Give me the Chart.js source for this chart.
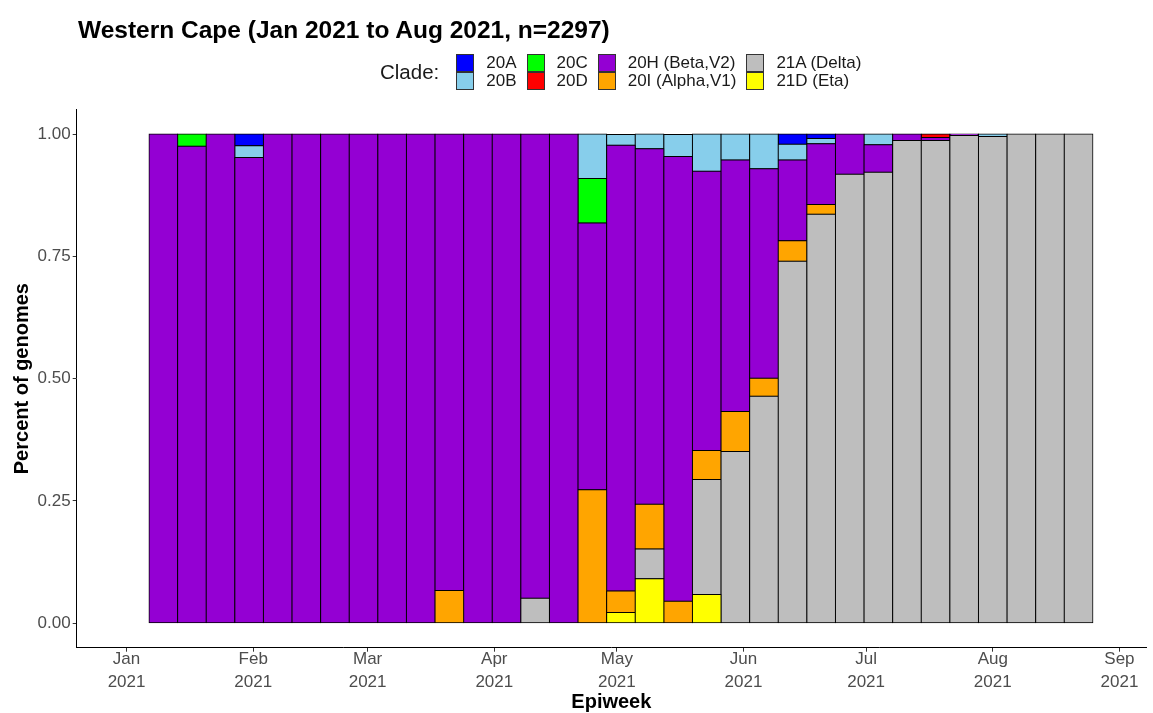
<!DOCTYPE html>
<html>
<head>
<meta charset="utf-8">
<script src="https://cdn.jsdelivr.net/npm/chart.js@4.4.1/dist/chart.umd.min.js"></script>
<style>
  html, body { margin:0; padding:0; background:#fff; }
  body { width:1153px; height:713px; position:relative; overflow:hidden; font-family:"Liberation Sans", Arial, sans-serif; }
  #c { position:absolute; left:0; top:0; }
  #title { position:absolute; left:78px; top:15px; font-weight:bold; font-size:24.5px; color:#000; white-space:nowrap; line-height:30px; }
  #legend { position:absolute; left:380px; top:54px; display:flex; align-items:center; color:#1a1a1a; }
  #legend .ltitle { font-size:20.5px; margin-right:17px; }
  #legend .col { display:flex; flex-direction:column; margin-right:10px; }
  #legend .item { display:flex; align-items:center; height:18px; }
  #legend .box { width:18px; height:18px; border:0.6px solid #333; box-sizing:border-box; margin-right:12px; }
  #legend .lab { font-size:17px; white-space:nowrap; line-height:18px; }
</style>
</head>
<body>
<canvas id="c" width="1153" height="713"></canvas>
<div id="title"></div>
<div id="legend"></div>
<script>
// ---------- data ----------
const chartTitle = "Western Cape (Jan 2021 to Aug 2021, n=2297)";
const weeks = ["2021-01-10","2021-01-17","2021-01-24","2021-01-31","2021-02-07","2021-02-14","2021-02-21","2021-02-28",
  "2021-03-07","2021-03-14","2021-03-21","2021-03-28","2021-04-04","2021-04-11","2021-04-18","2021-04-25",
  "2021-05-02","2021-05-09","2021-05-16","2021-05-23","2021-05-30","2021-06-06","2021-06-13","2021-06-20",
  "2021-06-27","2021-07-04","2021-07-11","2021-07-18","2021-07-25","2021-08-01","2021-08-08","2021-08-15","2021-08-22"];

const clades      = ["20A","20B","20C","20D","20H (Beta,V2)","20I (Alpha,V1)","21A (Delta)","21D (Eta)"];
const cladeColors = ["#0000FF","#87CEEB","#00FF00","#FF0000","#9400D3","#FFA500","#BEBEBE","#FFFF00"];

const v20A = [0,0,0,0.024,0,0,0,0, 0,0,0,0,0,0,0,0, 0,0,0,0,0,0,0.021,0.009, 0,0,0,0,0,0,0,0,0];
const v20B = [0,0,0,0.024,0,0,0,0, 0,0,0,0,0,0,0,0.091, 0.022,0.030,0.045,0.076,0.053,0.071,0.032,0.011, 0,0.022,0,0,0,0.005,0,0,0];
const v20C = [0,0.025,0,0,0,0,0,0, 0,0,0,0,0,0,0,0.091, 0,0,0,0,0,0,0,0, 0,0,0,0,0,0,0,0,0];
const v20D = [0,0,0,0,0,0,0,0, 0,0,0,0,0,0,0,0, 0,0,0,0,0,0,0,0, 0,0,0,0.007,0,0,0,0,0];
const v20H = [1,0.975,1,0.952,1,1,1,1, 1,1,0.933,1,1,0.949,1,0.545, 0.911,0.727,0.909,0.571,0.514,0.428,0.165,0.124, 0.082,0.056,0.013,0.006,0.003,0,0,0,0];
const v20I = [0,0,0,0,0,0,0,0, 0,0,0.067,0,0,0,0,0.273, 0.044,0.091,0.045,0.059,0.082,0.037,0.042,0.020, 0,0,0,0,0,0,0,0,0];
const v21A = [0,0,0,0,0,0,0,0, 0,0,0,0,0,0.051,0,0, 0,0.061,0,0.235,0.351,0.464,0.740,0.836, 0.918,0.922,0.987,0.987,0.997,0.995,1,1,1];
const v21D = [0,0,0,0,0,0,0,0, 0,0,0,0,0,0,0,0, 0.022,0.091,0,0.059,0,0,0,0, 0,0,0,0,0,0,0,0,0];

const monthTicks  = ["2021-01-01","2021-02-01","2021-03-01","2021-04-01","2021-05-01","2021-06-01","2021-07-01","2021-08-01","2021-09-01"];
const monthLabels = ["Jan","Feb","Mar","Apr","May","Jun","Jul","Aug","Sep"];
const yearLabel = "2021";
const yTicks = [0, 0.25, 0.5, 0.75, 1];

// ---------- helpers ----------
const DAY = 86400000;
const origin = Date.UTC(2021,0,1);
const toDay = s => (Date.parse(s + "T00:00:00Z") - origin) / DAY;
const weekDays = weeks.map(toDay);
const tickDays = monthTicks.map(toDay);

// stacking order bottom -> top
const stackOrder = [
  {name:clades[7], color:cladeColors[7], vals:v21D},
  {name:clades[6], color:cladeColors[6], vals:v21A},
  {name:clades[5], color:cladeColors[5], vals:v20I},
  {name:clades[4], color:cladeColors[4], vals:v20H},
  {name:clades[3], color:cladeColors[3], vals:v20D},
  {name:clades[2], color:cladeColors[2], vals:v20C},
  {name:clades[1], color:cladeColors[1], vals:v20B},
  {name:clades[0], color:cladeColors[0], vals:v20A},
];

const datasets = stackOrder.map(s => ({
  label: s.name,
  data: s.vals.map((v,i) => ({x: weekDays[i], y: v === 0 ? null : v})),
  backgroundColor: s.color,
  borderColor: "#000",
  borderWidth: 1,
  borderSkipped: false,
  inflateAmount: 0.5,
  categoryPercentage: 1,
  barPercentage: 1,
  stack: "s"
}));

// ---------- title + legend (real text) ----------
document.getElementById("title").textContent = chartTitle;
const leg = document.getElementById("legend");
const lt = document.createElement("div"); lt.className = "ltitle"; lt.textContent = "Clade:"; leg.appendChild(lt);
for (let c = 0; c < 4; c++) {
  const col = document.createElement("div"); col.className = "col";
  for (let r = 0; r < 2; r++) {
    const k = c*2 + r;
    const it = document.createElement("div"); it.className = "item";
    const b = document.createElement("div"); b.className = "box"; b.style.background = cladeColors[k];
    const l = document.createElement("div"); l.className = "lab"; l.textContent = clades[k];
    it.appendChild(b); it.appendChild(l); col.appendChild(it);
  }
  leg.appendChild(col);
}

// ---------- chart ----------
const FONT = "'Liberation Sans', Arial, sans-serif";
new Chart(document.getElementById("c"), {
  type: "bar",
  data: { datasets },
  options: {
    responsive: false,
    devicePixelRatio: 1,
    animation: false,
    layout: { padding: { top: 109.6, right: 7, left: 0, bottom: 0 } },
    plugins: { legend: { display: false }, tooltip: { enabled: false }, title: { display: false } },
    scales: {
      x: {
        type: "linear",
        stacked: true,
        offset: false,
        min: -12.2, max: 249.5,
        grid: { display: true, offset: false, drawOnChartArea: false, drawTicks: true, tickLength: 4, color: "#333", lineWidth: 1 },
        border: { display: true, color: "#000", width: 1 },
        afterBuildTicks: sc => { sc.ticks = tickDays.map(v => ({ value: v })); },
        afterFit: sc => { sc.height = 65.3; },
        ticks: {
          autoSkip: false, maxRotation: 0, minRotation: 0, padding: -3,
          color: "#4D4D4D",
          font: { family: FONT, size: 17, lineHeight: 1.3 },
          callback: (v, i) => [monthLabels[i], yearLabel]
        },
        title: { display: true, text: "Epiweek", color: "#000", font: { family: FONT, size: 20, weight: "bold" }, padding: { top: 0, bottom: -1 } }
      },
      y: {
        type: "linear",
        stacked: true,
        min: -0.05, max: 1.05,
        grid: { display: true, drawOnChartArea: false, drawTicks: true, tickLength: 4, color: "#333", lineWidth: 1 },
        border: { display: true, color: "#000", width: 1 },
        afterBuildTicks: sc => { sc.ticks = yTicks.map(v => ({ value: v })); },
        afterFit: sc => { sc.width = 76.7; },
        ticks: {
          padding: 2,
          color: "#4D4D4D",
          font: { family: FONT, size: 17 },
          callback: v => Number(v).toFixed(2)
        },
        title: { display: true, text: "Percent of genomes", color: "#000", font: { family: FONT, size: 20, weight: "bold" }, padding: { top: 10, bottom: 0 } }
      }
    }
  }
});
</script>
</body>
</html>
